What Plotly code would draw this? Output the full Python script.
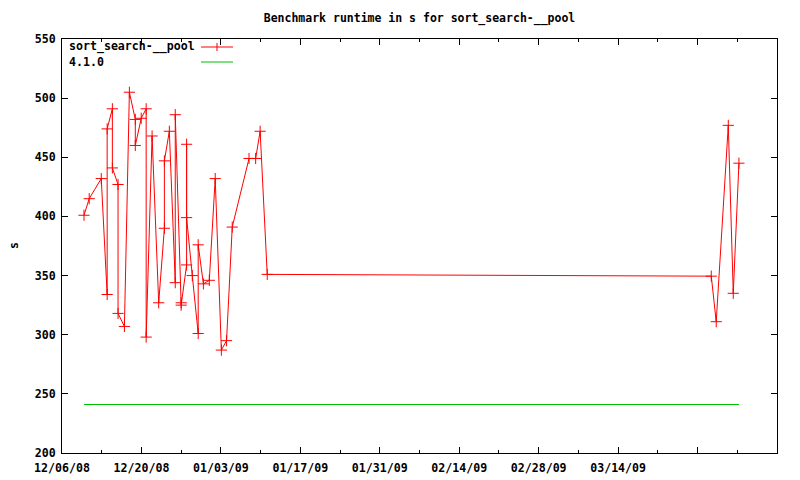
import plotly.graph_objects as go

# ---- data ----
run_dates = [
    "2008-12-09 21:00", "2008-12-10 19:00", "2008-12-12 22:00", "2008-12-13 23:00",
    "2008-12-13 23:00", "2008-12-14 21:00", "2008-12-14 21:00", "2008-12-15 21:00",
    "2008-12-15 21:00", "2008-12-17 00:00", "2008-12-17 21:00", "2008-12-18 22:00",
    "2008-12-18 22:00", "2008-12-19 23:00", "2008-12-20 20:00", "2008-12-20 20:00",
    "2008-12-21 21:00", "2008-12-23 01:00", "2008-12-24 01:00", "2008-12-24 01:00",
    "2008-12-24 22:00", "2008-12-25 23:00", "2008-12-25 23:00", "2008-12-27 00:00",
    "2008-12-27 00:00", "2008-12-27 23:00", "2008-12-27 23:00", "2008-12-27 23:00",
    "2008-12-28 23:00", "2008-12-30 00:00", "2008-12-30 00:00", "2008-12-30 22:00",
    "2008-12-31 23:00", "2009-01-02 00:00", "2009-01-03 02:00", "2009-01-04 00:00",
    "2009-01-05 00:00", "2009-01-07 23:00", "2009-01-09 03:00", "2009-01-09 22:00",
    "2009-01-11 04:00", "2009-03-30 10:00", "2009-03-31 07:00", "2009-04-02 10:00",
    "2009-04-03 07:00", "2009-04-04 07:00",
]
run_seconds = [
    401, 415, 432, 334,
    474, 491, 441, 427,
    318, 307, 505, 482,
    460, 483, 491, 298,
    468, 327, 390, 447,
    472, 344, 486, 327,
    325, 359, 461, 399,
    350, 301, 376, 343,
    346, 432, 287, 295,
    391, 449, 449, 472,
    351, 349.5, 311, 477,
    335, 445,
]
baseline_label = "4.1.0"
baseline_seconds = 241
series_label = "sort_search-__pool"

tick_dates = ["2008-12-06", "2008-12-20", "2009-01-03", "2009-01-17", "2009-01-31",
              "2009-02-14", "2009-02-28", "2009-03-14", "2009-03-28", "2009-04-11"]
tick_labels = ["12/06/08", "12/20/08", "01/03/09", "01/17/09", "01/31/09",
               "02/14/09", "02/28/09", "03/14/09", "", ""]

FONT = "DejaVu Sans Mono"
FS = 11.6
RED = "#ff0000"
GREEN = "#00c000"

fig = go.Figure()
fig.add_trace(go.Scatter(
    x=[run_dates[0], run_dates[-1]], y=[baseline_seconds, baseline_seconds],
    mode="lines", line=dict(color=GREEN, width=1), name=baseline_label,
    hoverinfo="skip",
))
fig.add_trace(go.Scatter(
    x=run_dates, y=run_seconds, mode="lines+markers", name=series_label,
    line=dict(color=RED, width=1),
    marker=dict(symbol="cross-thin-open", size=8, line=dict(color=RED, width=1)),
    hoverinfo="skip",
))

# page has an 8px body margin; target plot box in page pixels: x 62..777, y 39..453
OFF = 8
W, H = 800 - OFF, 480 - OFF
L, R, T, B = 62 - OFF, 23, 39 - OFF, 27
pw, ph = W - L - R, H - T - B

def px(xpage):
    return (xpage - OFF - L) / pw

def py(ypage):
    return (H - B - (ypage - OFF)) / ph

axis_common = dict(
    showline=True, linecolor="black", linewidth=1, mirror="allticks",
    ticks="inside", tickcolor="black", tickwidth=1, showgrid=False, zeroline=False,
    automargin=False,
    tickfont=dict(family=FONT, size=FS, color="black", weight="bold"),
)

fig.update_layout(
    width=W, height=H, autosize=False,
    margin=dict(l=L, r=R, t=T, b=B, autoexpand=False),
    paper_bgcolor="white", plot_bgcolor="white",
    showlegend=False,
    title=dict(text="Benchmark runtime in s for sort_search-__pool",
               xref="paper", x=0.5, xanchor="center",
               y=1 - (18 - OFF) / H, yanchor="middle",
               font=dict(family=FONT, size=11.5, color="black", weight="bold")),
    xaxis=dict(
        type="date", range=["2008-12-06", "2009-04-11"],
        tickmode="array", tickvals=tick_dates, ticktext=tick_labels, ticklen=6,
        ticklabelstandoff=4,
        minor=dict(ticks="inside", tickmode="linear", tick0="2008-12-06",
                   dtick=7 * 86400000, ticklen=3, tickcolor="black", showgrid=False),
        **axis_common,
    ),
    yaxis=dict(range=[200, 550], tickmode="linear", tick0=200, dtick=50, ticklen=6,
               ticklabelstandoff=3, **axis_common),
)

# y-axis title
fig.add_annotation(text="s", xref="paper", yref="paper", x=px(14), y=py(246),
                   xanchor="center", yanchor="middle",
                   showarrow=False, textangle=-90,
                   font=dict(family=FONT, size=FS, color="black", weight="bold"))

# gnuplot-style key (text left, sample right)
key_rows = [(series_label, RED, 47, True), (baseline_label, GREEN, 62, False)]
for label, color, ypix, cross in key_rows:
    fig.add_annotation(text=label, xref="paper", yref="paper", x=px(67), y=py(ypix),
                       xanchor="left", yanchor="middle", showarrow=False,
                       font=dict(family=FONT, size=FS, color="black", weight="bold"))
    fig.add_shape(type="line", xref="paper", yref="paper",
                  x0=px(201), x1=px(233), y0=py(ypix), y1=py(ypix),
                  line=dict(color=color, width=1))
    if cross:
        fig.add_shape(type="line", xref="paper", yref="paper",
                      x0=px(217), x1=px(217), y0=py(ypix + 4), y1=py(ypix - 4),
                      line=dict(color=color, width=1))

fig.write_html("out.html", config={"displayModeBar": False})
